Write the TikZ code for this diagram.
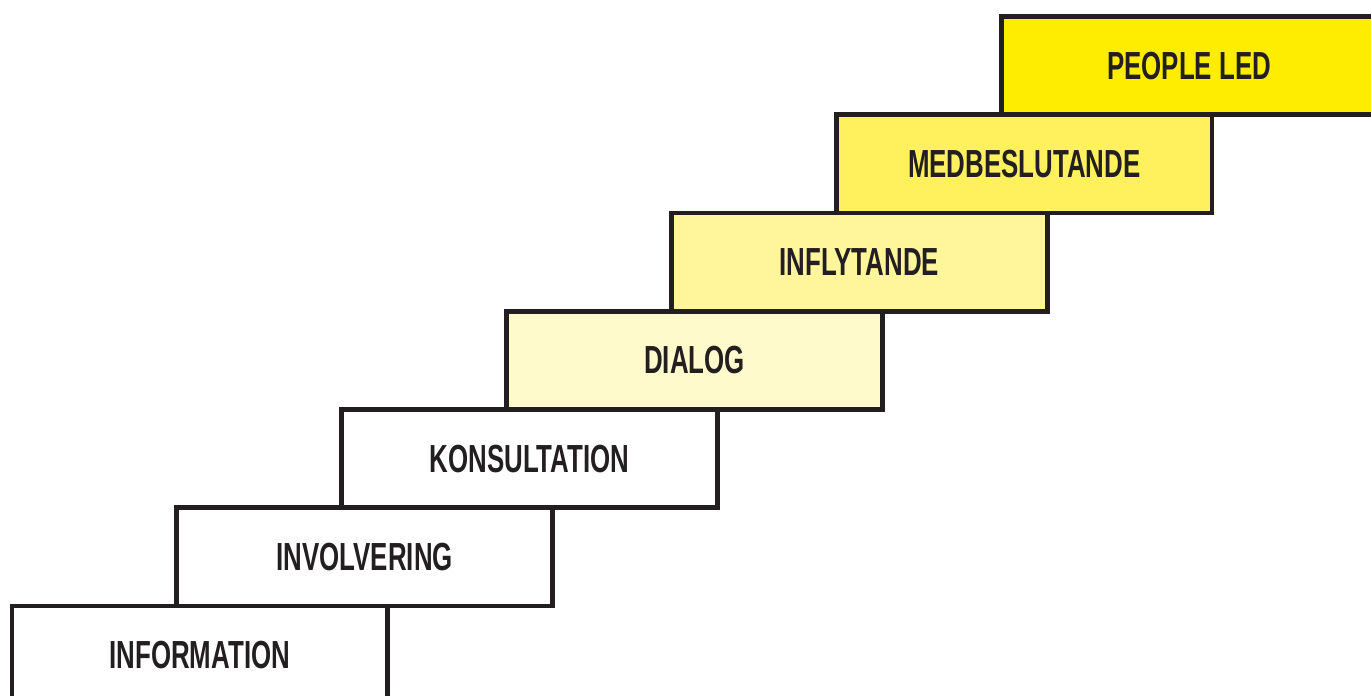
\documentclass[tikz,border=0pt]{standalone}
\usepackage{fontspec}
\setmainfont{Liberation Sans}[FakeStretch=0.66]
\usepackage{tikz}
\definecolor{stepline}{HTML}{231F20}
\definecolor{stepY1}{HTML}{FFFACC}
\definecolor{stepY2}{HTML}{FFF59B}
\definecolor{stepY3}{HTML}{FFF15E}
\definecolor{stepY4}{HTML}{FFED00}

\begin{document}
\begin{tikzpicture}[stepbox/.style={draw=stepline, line width=2.8pt, rectangle, minimum width=7.51cm, minimum height=1.965cm, inner sep=0pt, font=\fontsize{22.3}{24}\selectfont\bfseries, text=stepline}]
\useasboundingbox (0,0) rectangle (27.42,13.9);
\clip (0,0) rectangle (27.42,13.9);
\node[stepbox, fill=white] (S1) at (3.995,0.798) {INFORMATION};
\node[stepbox, fill=white] (S2) at (7.293,2.763) {INVOLVERING};
\node[stepbox, fill=white] (S3) at (10.591,4.728) {KONSULTATION};
\node[stepbox, fill=stepY1] (S4) at (13.889,6.693) {DIALOG};
\node[stepbox, fill=stepY2] (S5) at (17.187,8.658) {INFLYTANDE};
\node[stepbox, fill=stepY3] (S6) at (20.485,10.623) {MEDBESLUTANDE};
\node[stepbox, fill=stepY4] (S7) at (23.783,12.588) {PEOPLE LED};
\end{tikzpicture}
\end{document}
